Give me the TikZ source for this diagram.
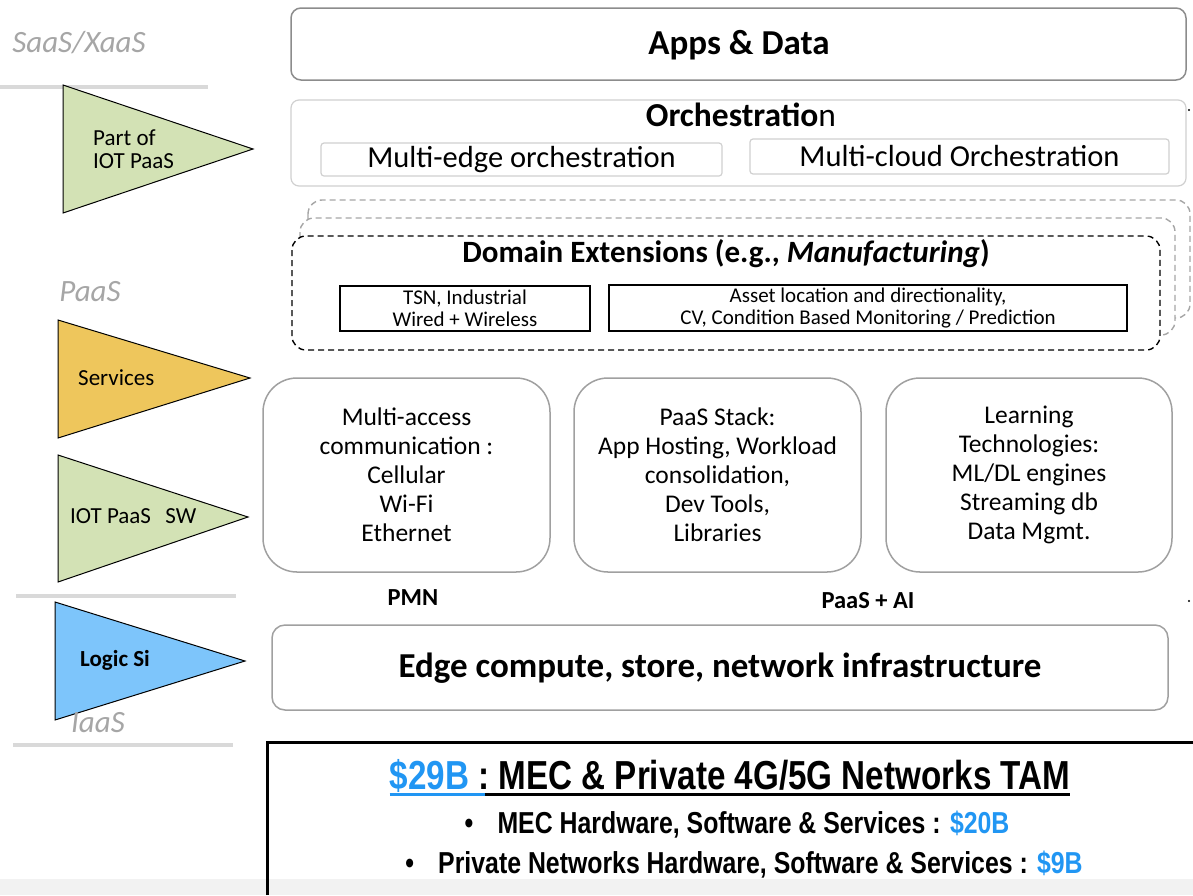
\documentclass[tikz,border=0pt]{standalone}
\usepackage{fontspec}
\setmainfont{Carlito}
\newfontfamily\arialn[FakeStretch=0.82]{Liberation Sans}
\usetikzlibrary{positioning}
\definecolor{lblgray}{HTML}{A6A6A6}
\definecolor{sepgray}{HTML}{D9D9D9}
\definecolor{boxgray}{HTML}{8C8C8C}
\definecolor{midgray}{HTML}{A0A0A0}
\definecolor{lightgray2}{HTML}{D0D0D0}
\definecolor{greenfill}{HTML}{D3E2B5}
\definecolor{orangefill}{HTML}{EEC65C}
\definecolor{bluefill}{HTML}{7DC5FB}
\definecolor{tamblue}{HTML}{2196F3}
\definecolor{band}{HTML}{F2F2F2}
\begin{document}
\begin{tikzpicture}[x=1pt,y=-1pt,
  layerlbl/.style={text=lblgray, font=\fontsize{31}{34}\selectfont\itshape, inner sep=0pt},
  sep/.style={sepgray, line width=4pt},
  tri/.style={draw=black, line width=1pt},
  trilbl/.style={font=\fontsize{23}{23}\selectfont, align=left, anchor=west, inner sep=0pt},
  bigbox/.style={draw=boxgray, line width=1.5pt, rounded corners=10pt},
  orchbox/.style={draw=lightgray2, line width=1.2pt, rounded corners=8pt},
  subbox/.style={draw=lightgray2, line width=1.2pt, rounded corners=3pt, font=\fontsize{30.5}{34}\selectfont, inner sep=0pt},
  dombox/.style={dashed, dash pattern=on 6pt off 4pt, line width=1.4pt, rounded corners=14pt},
  domsub/.style={draw=black, line width=1.4pt, font=\fontsize{21}{22}\selectfont, align=center, inner sep=0pt},
  midbox/.style={draw=midgray, line width=1.5pt, rounded corners=34pt, font=\fontsize{25.5}{29}\selectfont, align=center, inner sep=0pt},
  tamtext/.style={font=\arialn\bfseries\fontsize{30.3}{34}\selectfont, inner sep=0pt}
]
\useasboundingbox (0,0) rectangle (1193,895);
% bottom band
\fill[band] (0,879) rectangle (1193,895);

% left column
\node[layerlbl] (saas) at (79,43) {SaaS/XaaS};
\draw[sep] (0,87) -- (208,87);
\draw[tri, fill=greenfill] (63,85) -- (253,149) -- (63,213) -- cycle;
\node[trilbl] (t1) at (93,149) {Part of\\IOT PaaS};

\node[layerlbl] (paas) at (90,292) {PaaS};
\draw[tri, fill=orangefill] (58,320) -- (250,378) -- (58,438) -- cycle;
\node[trilbl] (t2) at (78,378) {Services};

\draw[tri, fill=greenfill] (58,455) -- (248,517) -- (58,582) -- cycle;
\node[trilbl] (t3) at (70,516) {IOT PaaS\hspace{0.4em} SW};

\draw[sep] (16,596) -- (236,596);
\draw[tri, fill=bluefill] (55,602) -- (245,661) -- (55,720) -- cycle;
\node[trilbl, font=\fontsize{23}{23}\selectfont\bfseries] (t4) at (80,660) {Logic Si};
\node[layerlbl] (iaas) at (98,723) {IaaS};
\draw[sep] (13,745) -- (233,745);

% Apps & Data
\draw[bigbox] (291,8) rectangle (1186,80);
\node[font=\fontsize{35}{38}\selectfont\bfseries] (apps) at (739,45) {Apps \& Data};

% Orchestration
\draw[orchbox] (291,100) rectangle (1186,186);
\node[font=\fontsize{33.5}{36}\selectfont] (orch) at (741,115) {{\bfseries Orchestratio}n};
\node[subbox, minimum width=401pt, minimum height=33pt] (medge) at (521.5,159.5) {Multi-edge orchestration};
\node[subbox, minimum width=419pt, minimum height=35pt] (mcloud) at (959.5,156.5) {Multi-cloud Orchestration};
\fill (1189,110) circle (1.2pt);

% Domain extensions stacked
\draw[dombox, draw=lblgray, fill=white] (308,200) rectangle (1190,318);
\draw[dombox, draw=lblgray, fill=white] (300,218) rectangle (1175,335);
\draw[dombox, draw=black, fill=white] (292,236) rectangle (1160,350);
\node[font=\fontsize{31}{34}\selectfont\bfseries] (dom) at (726,254) {Domain Extensions (e.g., \textit{Manufacturing})};
\node[domsub, minimum width=250pt, minimum height=45pt] (tsn) at (465,308.5) {TSN, Industrial\\Wired + Wireless};
\node[domsub, minimum width=518pt, minimum height=46pt] (asset) at (868,308) {Asset location and directionality,\\CV, Condition Based Monitoring / Prediction};

% middle boxes
\node[midbox, minimum width=287pt, minimum height=194pt] (pmnbox) at (406.5,475) {Multi-access\\communication :\\Cellular\\Wi-Fi\\Ethernet};
\node[midbox, minimum width=287pt, minimum height=194pt] (paasbox) at (717.5,475) {PaaS Stack:\\App Hosting, Workload\\consolidation,\\Dev Tools,\\Libraries};
\node[midbox, minimum width=286pt, minimum height=194pt] (learnbox) at (1029,475) {Learning\\Technologies:\\ML/DL engines\\Streaming db\\Data Mgmt.};
\node[font=\fontsize{24.5}{27}\selectfont\bfseries] (pmn) at (413,598) {PMN};
\node[font=\fontsize{24.5}{27}\selectfont\bfseries] (paasai) at (868,601) {PaaS + AI};
\fill (1189,601) circle (1.2pt);

% Edge compute
\draw[bigbox, draw=midgray, rounded corners=13pt] (272,625) rectangle (1168,710);
\node[font=\fontsize{35}{38}\selectfont\bfseries] (edge) at (720,668) {Edge compute, store, network infrastructure};

% TAM box
\draw[line width=3pt] (267,895) -- (267,742) -- (1193,742);
\node[tamtext, font=\arialn\bfseries\fontsize{40.5}{44}\selectfont] (tam) at (730,776)
  {\textcolor{tamblue}{\$29B }: MEC \& Private 4G/5G Networks TAM};
\path (tam.south west) ++(0,2) coordinate (ul0) ++(95,0) coordinate (ublue);
\draw[tamblue, line width=3pt] (ul0) -- (ublue);
\draw[black, line width=3pt] (ublue) -- (ublue -| tam.south east);
\node[tamtext] (b1) at (737,825) {\textbullet\hspace{0.8em}MEC Hardware, Software \& Services : \textcolor{tamblue}{\$20B}};
\node[tamtext] (b2) at (744,865) {\textbullet\hspace{0.8em}Private Networks Hardware, Software \& Services : \textcolor{tamblue}{\$9B}};
\end{tikzpicture}
\end{document}
